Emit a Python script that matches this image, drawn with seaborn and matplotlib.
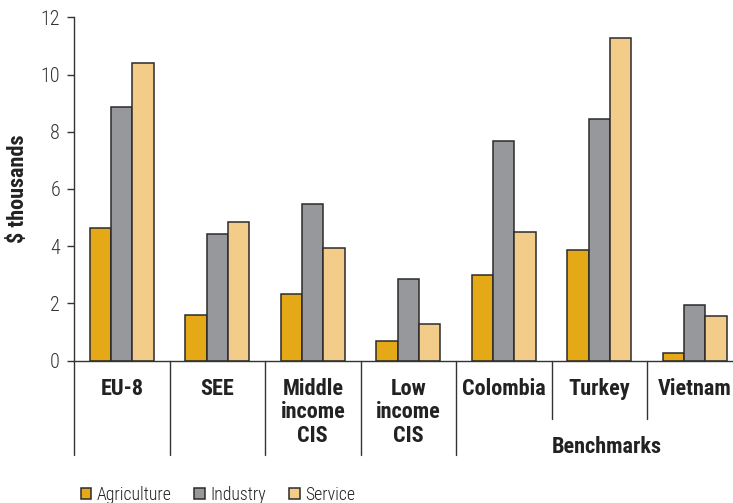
import matplotlib
matplotlib.use("Agg")
import matplotlib.pyplot as plt
import seaborn as sns
import pandas as pd

# Value added per worker by sector, $ thousands
regions = ["EU-8", "SEE", "Middle\nincome\nCIS", "Low\nincome\nCIS", "Colombia", "Turkey", "Vietnam"]
sectors = ["Agriculture", "Industry", "Service"]
agriculture = [4.65, 1.59, 2.32, 0.69, 2.99, 3.88, 0.28]
industry = [8.87, 4.43, 5.49, 2.86, 7.69, 8.45, 1.94]
service = [10.42, 4.85, 3.93, 1.27, 4.49, 11.29, 1.55]
y_ticks = [0, 2, 4, 6, 8, 10, 12]
colors = ["#E5A817", "#97989B", "#F3CC8A"]

df = pd.DataFrame({
    "region": regions * 3,
    "sector": [s for s in sectors for _ in regions],
    "value": agriculture + industry + service,
})

sns.set_theme(style="white")
plt.rcParams["font.family"] = ["Roboto Condensed", "DejaVu Sans"]

fig = plt.figure(figsize=(7.33, 5.03), dpi=100)
axis_w, axis_h = 668.5, 343.4
ax = fig.add_axes([74 / 733, 1 - 360.7 / 503, axis_w / 733, axis_h / 503])

sns.barplot(data=df, x="region", y="value", hue="sector", order=regions,
            hue_order=sectors, palette=colors, width=0.667, gap=0,
            edgecolor="#2b2b2b", linewidth=1.1, saturation=1, ax=ax)

ax.set_xlim(-0.5, len(regions) - 0.5)
ax.set_ylim(0, 12)
ax.set_yticks(y_ticks)
ax.tick_params(axis="y", which="both", left=True, length=5, width=1,
               color="#333333", labelsize=14.5, labelcolor="#333333", pad=5)
for lab in ax.get_yticklabels():
    lab.set_fontweight("light")
ax.set_xticks([])
ax.set_xlabel("")
ax.set_ylabel(r"\$ thousands", fontsize=16, fontweight="bold", color="#222222")
ax.yaxis.set_label_coords(-(74 - 18) / axis_w, 0.5)
ax.yaxis.label.set_va("center")

for side in ["top", "right"]:
    ax.spines[side].set_visible(False)
for side in ["left", "bottom"]:
    ax.spines[side].set_color("#333333")
    ax.spines[side].set_linewidth(1)

# Category labels and separators under the axis
trans = ax.get_xaxis_transform()
for i, name in enumerate(regions):
    ax.annotate(name, xy=(i, 0), xycoords=trans, xytext=(0, -17 * 0.72),
                textcoords="offset points", ha="center", va="top",
                fontsize=16, fontweight="bold", color="#222222",
                linespacing=1.1)

long_drop = -94 / axis_h
short_drop = -58 / axis_h
for k in range(len(regions) - 1):
    xb = k + 0.5
    low = short_drop if k >= 4 else long_drop
    ax.plot([xb, xb], [0, low], transform=trans, color="#333333", lw=1,
            clip_on=False)
ax.plot([-0.5, -0.5], [0, long_drop], transform=trans, color="#333333", lw=1,
        clip_on=False)

ax.text(5.08, -86 / axis_h, "Benchmarks", transform=trans, ha="center",
        va="center", fontsize=16, fontweight="bold", color="#222222")

handles, labels = ax.get_legend_handles_labels()
ax.get_legend().remove()
leg = fig.legend(handles, labels, loc="lower left", bbox_to_anchor=(0.088, -0.034),
                 ncol=3, frameon=False, fontsize=12.8, handlelength=0.6,
                 handleheight=0.6, handletextpad=0.3, columnspacing=1.3)
for t in leg.get_texts():
    t.set_fontweight("light")
    t.set_color("#222222")

fig.savefig("out.png", dpi=100)
